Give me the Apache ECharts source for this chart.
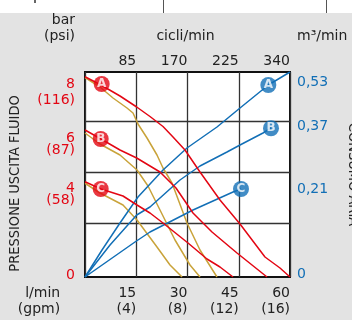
<!DOCTYPE html>
<html><head><meta charset="utf-8">
<script src="https://cdn.jsdelivr.net/npm/echarts@6/dist/echarts.min.js"></script>
<style>html,body{margin:0;padding:0;background:#e3e3e3;}#c{width:352px;height:320px;}</style>
</head><body><div id="c"></div>
<script>
// ---- data (flow in l/min, pressure in bar) ----
const flowTicks = [15, 30, 45, 60];
const gpmLabels = ['(4)', '(8)', '(12)', '(16)'];
const cycleLabels = ['85', '170', '225', '340'];
const pressureTicks = [8, 6, 4, 0];
const pressureLabels = ['8', '6', '4', '0'];
const psiLabels = ['(116)', '(87)', '(58)', ''];
const airTickPos = [7.8, 6.02, 3.52, 0.1];
const airLabels = ['0,53', '0,37', '0,21', '0'];
const gridLevels = [2.16, 4.19, 6.24];

const redA = [[0,8.01],[4.68,7.68],[10.24,7.24],[15.13,6.8],[19.02,6.42],[22.83,6.02],[25.76,5.6],[29.27,5.08],[33.66,4.2],[39.51,3.08],[45.37,2.12],[52.68,0.8],[57.07,0.36],[60,0]];
const redB = [[0,5.88],[4.68,5.52],[10.24,5.08],[15.13,4.76],[21.95,4.2],[26.63,3.56],[31.61,2.56],[37.17,1.8],[44.49,0.96],[48.88,0.48],[53.27,0]];
const redC = [[0,3.81],[4.68,3.52],[11.12,3.24],[15.22,2.88],[19.02,2.56],[22.83,2.16],[30.15,1.36],[35.71,0.72],[39.51,0.4],[43.32,0]];
const goldA = [[0,7.98],[4.39,7.6],[8.2,7.16],[12.29,6.76],[14.05,6.56],[15.51,6.12],[18.15,5.56],[21.07,4.88],[22.83,4.36],[25.46,3.76],[29.85,2.16],[33.66,1.08],[38.63,0]];
const goldB = [[0,5.76],[4.39,5.32],[10.24,4.88],[15.22,4.28],[18.44,3.64],[21.95,2.68],[26.34,1.48],[30.73,0.48],[33.66,0]];
const goldC = [[0,3.75],[4.39,3.36],[11.12,2.88],[15.22,2.28],[21.07,1.2],[24.88,0.48],[28.4,0]];
const blueA = [[0,0],[4.98,1.08],[10.24,2.16],[15.51,3.2],[22.83,4.28],[29.85,5.16],[38.63,6.0],[45.37,6.76],[53.66,7.68],[60,8.2]];
const blueB = [[0,0],[7.32,1.28],[15.13,2.48],[19.02,2.8],[27.8,3.88],[33.66,4.44],[41.56,5.0],[45.37,5.28],[52.1,5.76],[54.44,5.96]];
const blueC = [[0,0],[14.63,1.4],[19.02,1.8],[31.61,2.68],[43.32,3.4],[45.66,3.52]];
const redMarks = [[4.88,7.72,'A'],[4.6,5.52,'B'],[4.6,3.52,'C']];
const blueMarks = [[53.66,7.68,'A'],[54.44,5.95,'B'],[45.66,3.52,'C']];

const FONT = 'DejaVu Sans';
const NARROW = '"DejaVu Sans Condensed", "Liberation Sans Narrow", "DejaVu Sans"';
const FS = 14;
const RED = '#e30613', GOLD = '#c9a33a', BLUE = '#126fb6', GRID = '#333';

const chart = echarts.init(document.getElementById('c'), null, {renderer: 'canvas'});

function line(data, color, yIdx) {
  return {type: 'line', data, xAxisIndex: 0, yAxisIndex: yIdx, symbol: 'none', smooth: false,
    lineStyle: {color, width: 1.5}, silent: true, animation: false, z: 3};
}
function marks(data, color, yIdx) {
  return {type: 'scatter', data, xAxisIndex: 0, yAxisIndex: yIdx, symbolSize: 16,
    itemStyle: {color}, z: 5, animation: false, silent: true,
    label: {show: true, position: 'inside', formatter: p => p.value[2], color: '#fff',
      fontFamily: FONT, fontWeight: 'bold', fontSize: 12}};
}

const option = {
  animation: false,
  backgroundColor: '#e3e3e3',
  grid: {left: 85, top: 72, width: 205, height: 205, show: true, backgroundColor: '#fff',
    borderColor: '#111', borderWidth: 2, containLabel: false, outerBoundsMode: 'none'},
  xAxis: [{
    type: 'value', position: 'bottom', min: 0, max: 60, interval: 15,
    axisLine: {show: false}, axisTick: {show: false},
    splitLine: {show: true, lineStyle: {color: GRID, width: 1.3}},
    axisLabel: {customValues: flowTicks, color: '#222', fontFamily: FONT, fontSize: FS,
      align: 'right', lineHeight: 16, margin: 8,
      formatter: v => { const i = flowTicks.indexOf(v); return i < 0 ? '' : v + '\n' + gpmLabels[i]; }},
    name: 'l/min\n(gpm)', nameLocation: 'start', nameGap: 10,
    nameTextStyle: {color: '#222', fontFamily: FONT, fontSize: FS, lineHeight: 16,
      align: 'right', verticalAlign: 'top', padding: [8, 0, 0, 0]}
  }, {
    type: 'value', position: 'top', min: 0, max: 60, interval: 15,
    axisLine: {show: false}, axisTick: {show: false}, splitLine: {show: false},
    axisLabel: {customValues: flowTicks, color: '#222', fontFamily: FONT, fontSize: FS,
      align: 'right', margin: 4,
      formatter: v => { const i = flowTicks.indexOf(v); return i < 0 ? '' : cycleLabels[i]; }},
    name: 'cicli/min', nameLocation: 'middle', nameGap: 29,
    nameTextStyle: {color: '#222', fontFamily: FONT, fontSize: FS, padding: [0, 4, 0, 0]}
  }],
  yAxis: [{
    type: 'value', position: 'left', min: 0, max: 8.2,
    axisLine: {show: false}, axisTick: {show: false}, splitLine: {show: false},
    axisLabel: {customValues: pressureTicks, color: RED, fontFamily: FONT, fontSize: FS,
      verticalAlign: 'top', margin: 10,
      formatter: v => { const i = pressureTicks.indexOf(v); if (i < 0) return '';
        if (!psiLabels[i]) return '{z|' + pressureLabels[i] + '}';
        return '{' + (v === 8 ? 'n' : 'm') + '|' + pressureLabels[i] + '}\n{p|' + psiLabels[i] + '}'; },
      rich: {n: {lineHeight: 15.5, fontSize: FS, fontFamily: FONT, color: RED},
             m: {lineHeight: 15.5, fontSize: FS, fontFamily: FONT, color: RED, padding: [7, 0, 0, 0]},
             p: {lineHeight: 15.5, fontSize: FS, fontFamily: FONT, color: RED},
             z: {lineHeight: 1, fontSize: FS, fontFamily: FONT, color: RED, padding: [0, 0, 5, 0]}}},
    name: 'bar\n(psi)', nameLocation: 'end', nameGap: 27,
    nameTextStyle: {color: '#222', fontFamily: FONT, fontSize: FS, lineHeight: 16.5,
      align: 'right', padding: [0, 10, 0, 0]}
  }, {
    type: 'value', position: 'left', min: 0, max: 8.2,
    axisLine: {show: false}, axisTick: {show: false, customValues: gridLevels}, axisLabel: {show: false},
    splitLine: {show: true, lineStyle: {color: GRID, width: 1.3}},
    name: 'PRESSIONE USCITA FLUIDO', nameLocation: 'middle', nameGap: 62, nameRotate: 90,
    nameTextStyle: {color: '#222', fontFamily: NARROW, fontSize: 14.5, padding: [0, 18, 0, 0]}
  }, {
    type: 'value', position: 'right', min: 0, max: 8.2,
    axisLine: {show: false}, axisTick: {show: false}, splitLine: {show: false},
    axisLabel: {customValues: airTickPos, color: BLUE, fontFamily: FONT, fontSize: FS, margin: 7,
      formatter: v => { const i = airTickPos.indexOf(v); return i < 0 ? '' : airLabels[i]; }},
    name: 'm³/min', nameLocation: 'end', nameGap: 29,
    nameTextStyle: {color: '#222', fontFamily: FONT, fontSize: FS, align: 'left', padding: [0, 0, 0, 7]}
  }, {
    type: 'value', position: 'right', min: 0, max: 8.2,
    axisLine: {show: false}, axisTick: {show: false}, axisLabel: {show: false}, splitLine: {show: false},
    name: 'CONSUMO ARIA', nameLocation: 'middle', nameGap: 55, nameRotate: -90,
    nameTextStyle: {color: '#222', fontFamily: NARROW, fontSize: 14.5}
  }],
  series: [
    line(goldA, GOLD, 0), line(goldB, GOLD, 0), line(goldC, GOLD, 0),
    line(blueA, BLUE, 2), line(blueB, BLUE, 2), line(blueC, BLUE, 2),
    line(redA, RED, 0), line(redB, RED, 0), line(redC, RED, 0),
    marks(redMarks, RED, 0), marks(blueMarks, BLUE, 2)
  ],
  graphic: [
    {type: 'rect', shape: {x: 0, y: 0, width: 352, height: 13}, style: {fill: '#fff'}, silent: true},
    {type: 'line', shape: {x1: 163.5, y1: 0, x2: 163.5, y2: 13}, style: {stroke: '#555', lineWidth: 1}, silent: true},
    {type: 'line', shape: {x1: 326.5, y1: 0, x2: 326.5, y2: 13}, style: {stroke: '#555', lineWidth: 1}, silent: true},
    {type: 'line', shape: {x1: 35, y1: 0, x2: 35, y2: 3}, style: {stroke: '#333', lineWidth: 1.5}, silent: true}
  ]
};
chart.setOption(option);
</script></body></html>
